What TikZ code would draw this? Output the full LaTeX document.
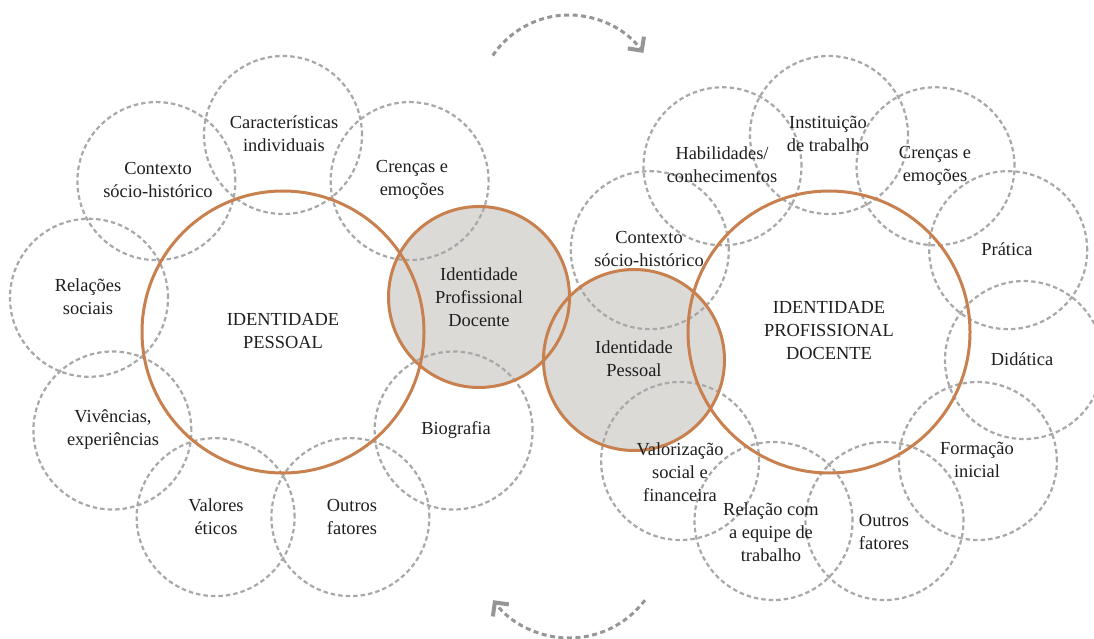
\documentclass[tikz,border=0pt]{standalone}
\usepackage{fontspec}
\setmainfont{Liberation Serif}
\usetikzlibrary{arrows.meta}
\definecolor{orangeline}{RGB}{199,128,78}
\definecolor{greyfill}{RGB}{220,218,215}
\definecolor{dashgrey}{RGB}{168,168,168}
\definecolor{arcgrey}{RGB}{150,150,150}
\definecolor{txt}{RGB}{30,30,30}
\begin{document}
\begin{tikzpicture}[x=1pt,y=-1pt,
  sat/.style={circle, draw=dashgrey, line width=2.2pt, dash pattern=on 4.5pt off 3pt, minimum size=158pt, inner sep=0pt},
  big/.style={circle, draw=orangeline, line width=3pt, minimum size=282pt, inner sep=0pt},
  greydisc/.style={circle, fill=greyfill, minimum size=181pt, inner sep=0pt},
  greyring/.style={circle, draw=orangeline, line width=3pt, minimum size=181pt, inner sep=0pt},
  lbl/.style={align=center, text=txt, font=\fontsize{18.4}{23}\selectfont, inner sep=0pt},
  cyc/.style={draw=arcgrey, line width=3pt, dash pattern=on 5pt off 3.5pt, -{Straight Barb[length=10pt,width=20pt,line width=4pt]}}
]
\useasboundingbox (0,0) rectangle (1094,639);
% centres
\coordinate (LC) at (283,332);
\coordinate (RC) at (829,332);
% grey discs
\node[greydisc] (GL) at (479,297) {};
\node[greydisc] (GR) at (634,360) {};
% left satellites
\foreach \a/\n in {90/1,50/2,130/3,170/4,210/5,250/6,290/7,330/8}
  \node[sat] (LS\n) at ({283+197*cos(\a)},{332-197*sin(\a)}) {};
% right satellites
\foreach \k in {0,1,2,3,4,5,6,7,9,10}
  \node[sat] (RS\k) at ({829+197*cos(90-32.7273*\k)},{332-197*sin(90-32.7273*\k)}) {};
% big circles and rings
\node[big] (BL) at (LC) {};
\node[big] (BR) at (RC) {};
\node[greyring] (GLr) at (GL) {};
\node[greyring] (GRr) at (GR) {};
% left labels
\node[lbl] (t1) at (284,134) {Características\\individuais};
\node[lbl] (t2) at (158,180) {Contexto\\sócio-histórico};
\node[lbl] (t3) at (412,180) {Crenças e\\emoções};
\node[lbl] (t4) at (88,297) {Relações\\sociais};
\node[lbl] (t5) at (283,331) {IDENTIDADE\\PESSOAL};
\node[lbl] (t6) at (479,297) {Identidade\\Profissional\\Docente};
\node[lbl] (t7) at (113,430) {Vivências,\\experiências};
\node[lbl] (t8) at (456,430) {Biografia};
\node[lbl] (t9) at (216,517) {Valores\\éticos};
\node[lbl] (t10) at (352,517) {Outros\\fatores};
% right labels
\node[lbl] (r1) at (828,134) {Instituição\\de trabalho};
\node[lbl] (r2) at (722,165) {Habilidades/\\conhecimentos};
\node[lbl] (r3) at (935,166) {Crenças e\\emoções};
\node[lbl] (r4) at (649,249) {Contexto\\sócio-histórico};
\node[lbl] (r5) at (1007,249) {Prática};
\node[lbl] (r6) at (829,331) {IDENTIDADE\\PROFISSIONAL\\DOCENTE};
\node[lbl] (r7) at (634,359) {Identidade\\Pessoal};
\node[lbl] (r8) at (1022,359) {Didática};
\node[lbl] (r9) at (977,460) {Formação\\inicial};
\node[lbl] (r10) at (884,532) {Outros\\fatores};
\node[lbl] (r11) at (771,532) {Relação com\\a equipe de\\trabalho};
\node[lbl] (r12) at (680,472) {Valorização\\social e\\financeira};
% cycle arrows
\coordinate (ts) at ({569+92*cos(-146)},{107+92*sin(-146)});
\draw[cyc] (ts) arc[start angle=-146,end angle=-36,radius=92];
\coordinate (bs) at ({569+95*cos(37)},{543+95*sin(37)});
\draw[cyc] (bs) arc[start angle=37,end angle=143,radius=95];
\end{tikzpicture}
\end{document}
